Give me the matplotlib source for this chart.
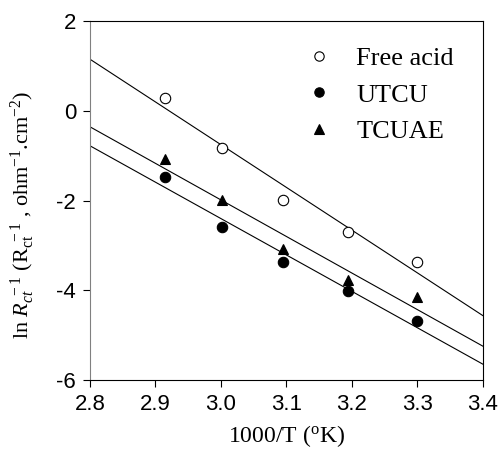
import numpy as np
import matplotlib
matplotlib.use("Agg")
import matplotlib.pyplot as plt

plt.rcParams['mathtext.fontset'] = 'custom'
plt.rcParams['mathtext.rm'] = 'Liberation Serif'
plt.rcParams['mathtext.it'] = 'Liberation Serif:italic'
plt.rcParams['axes.unicode_minus'] = False

# 1000/T values and ln(1/Rct) for each inhibitor
inv_T = [2.915, 3.002, 3.095, 3.194, 3.300]
free_acid = [0.29, -0.82, -1.99, -2.70, -3.38]
utcu = [-1.47, -2.58, -3.38, -4.01, -4.68]
tcuae = [-1.08, -1.99, -3.08, -3.77, -4.14]

series = [
    ('Free acid', free_acid, dict(marker='o', mfc='white', mec='black')),
    ('UTCU', utcu, dict(marker='o', mfc='black', mec='black')),
    ('TCUAE', tcuae, dict(marker='^', mfc='black', mec='black')),
]

fig = plt.figure(figsize=(5.01, 4.55), dpi=100)
ax = fig.add_axes([0.1796, 0.1648, 0.7844, 0.789])

xfit = np.array([2.8, 3.4])
for name, y, style in series:
    ax.plot(inv_T, y, ls='none', ms=7.5, mew=0.8, label=name, zorder=3, **style)
    k, b = np.polyfit(inv_T, y, 1)
    ax.plot(xfit, k * xfit + b, color='black', lw=0.8, zorder=2)

ax.set_xlim(2.8, 3.4)
ax.set_ylim(-6, 2)
ax.set_xticks([2.8, 2.9, 3.0, 3.1, 3.2, 3.3, 3.4])
ax.set_yticks([-6, -4, -2, 0, 2])
ax.set_xticklabels(['2.8', '2.9', '3.0', '3.1', '3.2', '3.3', '3.4'])
ax.tick_params(labelsize=16, length=5, width=0.8, direction='out', pad=5)
for lab in ax.get_xticklabels() + ax.get_yticklabels():
    lab.set_fontfamily('Liberation Sans')

for s in ax.spines.values():
    s.set_linewidth(0.8)
ax.spines['left'].set_color('#808080')

ax.set_xlabel(r'1000/T ($^{\mathrm{o}}$K)', fontsize=17, family='Liberation Serif', labelpad=6)
ax.set_ylabel(r'ln $R_{ct}^{\ -1}$ ($\mathrm{R_{ct}^{\ -1}}$ , ohm$^{-1}$.cm$^{-2}$)',
              fontsize=16, family='Liberation Serif')
ax.yaxis.set_label_coords(-0.135, 0.46)

ax.legend(loc='upper left', bbox_to_anchor=(0.49, 0.995), frameon=False,
          prop={'family': 'Liberation Serif', 'size': 19}, handlelength=1.0,
          handletextpad=0.9, labelspacing=0.5, markerscale=0.9)

fig.savefig('out.png', dpi=100)
